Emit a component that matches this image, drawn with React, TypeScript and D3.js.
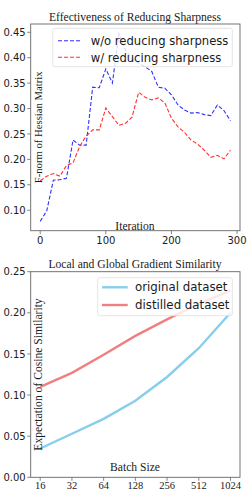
import React from "react";
import * as d3 from "d3";

const iterations = [0, 10, 20, 30, 40, 50, 60, 70, 80, 90, 100, 110, 120, 130, 140, 150, 160, 170, 180, 190, 200, 210, 220, 230, 240, 250, 260, 270, 280, 290];
const woSharp = [0.078, 0.099, 0.159, 0.160, 0.163, 0.238, 0.228, 0.228, 0.342, 0.341, 0.378, 0.350, 0.447, 0.415, 0.398, 0.390, 0.382, 0.373, 0.342, 0.340, 0.327, 0.307, 0.297, 0.291, 0.292, 0.288, 0.286, 0.307, 0.296, 0.276];
const wSharp = [0.158, 0.167, 0.172, 0.167, 0.188, 0.193, 0.225, 0.246, 0.258, 0.258, 0.301, 0.284, 0.267, 0.271, 0.283, 0.332, 0.322, 0.317, 0.321, 0.311, 0.281, 0.264, 0.253, 0.238, 0.230, 0.218, 0.204, 0.208, 0.201, 0.218];
const topYTicks = [0.10, 0.15, 0.20, 0.25, 0.30, 0.35, 0.40, 0.45];
const topXTicks = [0, 100, 200, 300];

const batchSizes = ["16", "32", "64", "128", "256", "512", "1024"];
const originalSim = [0.035, 0.053, 0.071, 0.093, 0.122, 0.157, 0.200];
const distilledSim = [0.110, 0.127, 0.149, 0.172, 0.192, 0.211, 0.227];
const bottomYTicks = [0.00, 0.05, 0.10, 0.15, 0.20, 0.25];

const SANS = "DejaVu Sans";
const SERIF = "Liberation Serif";
const L = 30.7, R = 240;

export default function App() {
  // top chart
  const t0 = 24, t1 = 230.7;
  const xT = d3.scaleLinear().domain([-14.5, 304.5]).range([L, R]);
  const yT = d3.scaleLinear().domain([0.0597, 0.4663]).range([t1, t0]);
  const lineT = (vals: number[]) =>
    d3.line<number>().x((_, i) => xT(iterations[i])).y((v) => yT(v))(vals) || "";

  // bottom chart
  const b0 = 271.7, b1 = 477.3;
  const xB = d3.scaleLinear().domain([-0.3, 6.3]).range([L, R]);
  const yB = d3.scaleLinear().domain([0, 0.25]).range([b1, b0]);
  const lineB = (vals: number[]) =>
    d3.line<number>().x((_, i) => xB(i)).y((v) => yB(v))(vals) || "";

  const frame = "#666";
  const ink = "#1a1a1a";
  return (
    <svg width={252} height={490} style={{ position: "absolute", left: 0, top: 0 }}>
      <rect width={252} height={490} fill="#fff" />
      <defs>
        <clipPath id="ct"><rect x={L} y={t0} width={R - L} height={t1 - t0} /></clipPath>
        <clipPath id="cb"><rect x={L} y={b0} width={R - L} height={b1 - b0} /></clipPath>
      </defs>
      {/* TOP */}
      <text x={135} y={21.2} textAnchor="middle" fontFamily={SERIF} fontSize={11.6} fill={ink}>Effectiveness of Reducing Sharpness</text>
      <g clipPath="url(#ct)">
        <path d={lineT(woSharp)} fill="none" stroke="#3030ff" strokeWidth={1.1} strokeDasharray="4,2" />
        <path d={lineT(wSharp)} fill="none" stroke="#ff3030" strokeWidth={1.1} strokeDasharray="4,2" />
      </g>
      <rect x={L} y={t0} width={R - L} height={t1 - t0} fill="none" stroke={frame} strokeWidth={0.9} />
      {topYTicks.map((v) => (
        <g key={v}>
          <line x1={L - 3.5} x2={L} y1={yT(v)} y2={yT(v)} stroke={frame} strokeWidth={0.8} />
          <text x={L - 5} y={yT(v) + 3.6} textAnchor="end" fontFamily={SANS} fontSize={10} fill={ink}>{v.toFixed(2)}</text>
        </g>
      ))}
      {topXTicks.map((v) => (
        <g key={v}>
          <line x1={xT(v)} x2={xT(v)} y1={t1} y2={t1 + 3.5} stroke={frame} strokeWidth={0.8} />
          <text x={xT(v)} y={t1 + 13.5} textAnchor="middle" fontFamily={SANS} fontSize={10} fill={ink}>{v}</text>
        </g>
      ))}
      <text x={135} y={230} textAnchor="middle" fontFamily={SERIF} fontSize={11.6} fill={ink}>Iteration</text>
      <text transform={`translate(41.7,${(t0 + t1) / 2}) rotate(-90)`} textAnchor="middle" fontFamily={SERIF} fontSize={10.7} fill={ink}>F-norm of Hessian Matrix</text>
      <g>
        <rect x={52.7} y={28.3} width={179.6} height={38.4} rx={2} fill="#fff" fillOpacity={0.8} stroke="#ddd" strokeWidth={0.8} />
        <line x1={58} x2={80} y1={40.7} y2={40.7} stroke="#3030ff" strokeWidth={1.1} strokeDasharray="4,2" />
        <line x1={58} x2={80} y1={57.3} y2={57.3} stroke="#ff3030" strokeWidth={1.1} strokeDasharray="4,2" />
        <text x={90.7} y={44.9} fontFamily={SANS} fontSize={11.6} fill={ink}>w/o reducing sharpness</text>
        <text x={90.7} y={61.5} fontFamily={SANS} fontSize={11.6} fill={ink}>w/ reducing sharpness</text>
      </g>

      {/* BOTTOM */}
      <text x={135} y={267.7} textAnchor="middle" fontFamily={SERIF} fontSize={11.6} fill={ink}>Local and Global Gradient Similarity</text>
      <g clipPath="url(#cb)">
        <path d={lineB(originalSim)} fill="none" stroke="#87ceeb" strokeWidth={2.4} />
        <path d={lineB(distilledSim)} fill="none" stroke="#f08080" strokeWidth={2.4} />
      </g>
      <rect x={L} y={b0} width={R - L} height={b1 - b0} fill="none" stroke={frame} strokeWidth={0.9} />
      {bottomYTicks.map((v) => (
        <g key={v}>
          <line x1={L - 3.5} x2={L} y1={yB(v)} y2={yB(v)} stroke={frame} strokeWidth={0.8} />
          <text x={L - 5} y={yB(v) + 3.6} textAnchor="end" fontFamily={SANS} fontSize={10} fill={ink}>{v.toFixed(2)}</text>
        </g>
      ))}
      {batchSizes.map((b, i) => (
        <g key={b}>
          <line x1={xB(i)} x2={xB(i)} y1={b1} y2={b1 + 3.5} stroke={frame} strokeWidth={0.8} />
          <text x={xB(i)} y={b1 + 12} textAnchor="middle" fontFamily={SERIF} fontSize={10.5} fill={ink}>{b}</text>
        </g>
      ))}
      <text x={135} y={470.7} textAnchor="middle" fontFamily={SERIF} fontSize={11.6} fill={ink}>Batch Size</text>
      <text transform={`translate(41.7,${(b0 + b1) / 2}) rotate(-90)`} textAnchor="middle" fontFamily={SERIF} fontSize={11.6} fill={ink}>Expectation of Cosine Similarity</text>
      <g>
        <rect x={97.7} y={277.7} width={134.6} height={38} rx={2} fill="#fff" fillOpacity={0.8} stroke="#ddd" strokeWidth={0.8} />
        <line x1={102} x2={127.7} y1={287.3} y2={287.3} stroke="#87ceeb" strokeWidth={2.4} />
        <line x1={102} x2={127.7} y1={305} y2={305} stroke="#f08080" strokeWidth={2.4} />
        <text x={135} y={291.2} fontFamily={SANS} fontSize={11.8} fill={ink}>original dataset</text>
        <text x={135} y={308.9} fontFamily={SANS} fontSize={11.8} fill={ink}>distilled dataset</text>
      </g>
    </svg>
  );
}
